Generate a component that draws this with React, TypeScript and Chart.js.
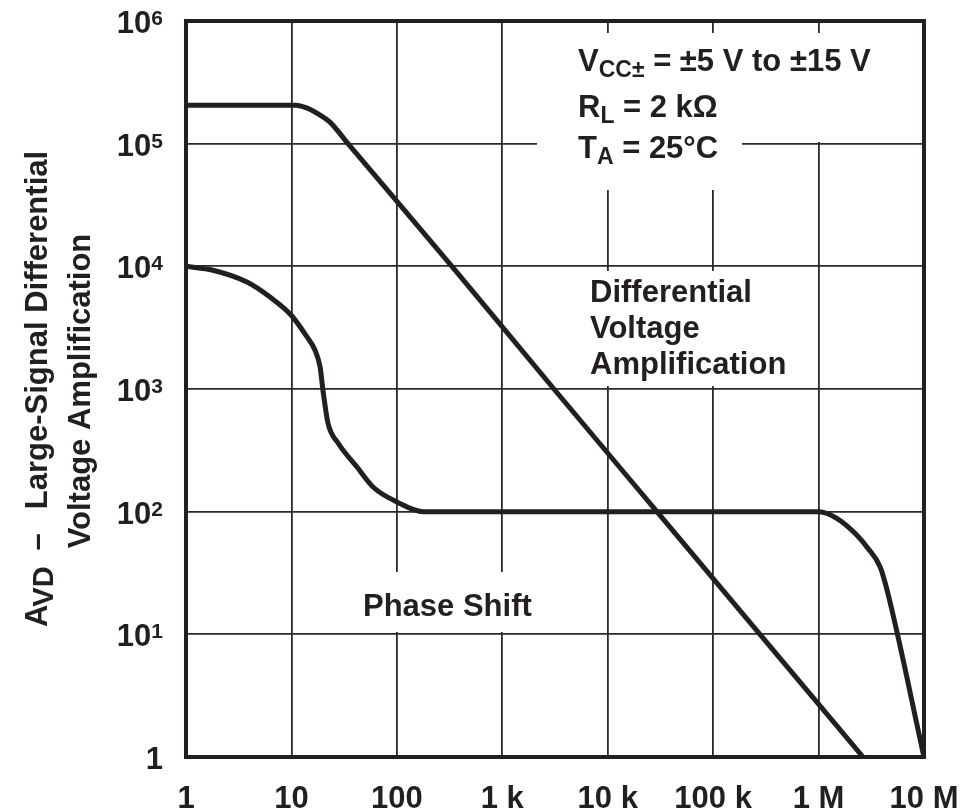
import React, { useEffect, useRef } from 'react';
import { Chart, registerables } from 'chart.js';

Chart.register(...registerables);

// ---- axis ticks ----
const xTickValues = [1, 10, 100, 1e3, 1e4, 1e5, 1e6, 1e7];
const xTickLabels = ['1', '10', '100', '1 k', '10 k', '100 k', '1 M', '10 M'];
const yTickValues = [1, 10, 100, 1e3, 1e4, 1e5, 1e6];
const yTickBases = ['1', '10', '10', '10', '10', '10', '10'];
const yTickExponents = ['', '1', '2', '3', '4', '5', '6'];

// ---- differential voltage amplification curve ----
const gainFreq = [1, 10.9, 14.1, 18.7, 23.2, 34.4, 333, 3.09e3, 2.93e4, 2.78e5, 2.64e6];
const gainValues = [2.06e5, 2.06e5, 1.95e5, 1.71e5, 1.5e5, 1e5, 1e4, 1e3, 100, 10, 1];

// ---- phase shift curve ----
const phaseFreq = [
  1, 1.8, 3.79, 6.26, 9.91, 14.0, 16.7, 18.7, 19.9, 22.2, 27.7, 41.9, 59.4, 100, 177,
  1.01e6, 1.49e6, 2.3e6, 2.86e6, 3.83e6, 4.46e6, 1e7,
];
const phaseValues = [
  1e4, 9.3e3, 7.45e3, 5.62e3, 4.01e3, 2.67e3, 2.08e3, 1.51e3, 980, 528, 363, 231, 159, 120, 100,
  100, 88.3, 64.6, 51.8, 35.6, 23.0, 1,
];

// ---- texts ----
const titleLine1 = { main: 'A', sub: 'VD', rest: 'Large-Signal Differential', dash: '–' };
const titleLine2 = 'Voltage Amplification';
const conditions = [
  { main: 'V', sub: 'CC±', rest: ' = ±5 V to ±15 V' },
  { main: 'R', sub: 'L', rest: ' = 2 kΩ' },
  { main: 'T', sub: 'A', rest: ' = 25°C' },
];
const gainLabel = ['Differential', 'Voltage', 'Amplification'];
const phaseLabel = 'Phase Shift';

const INK = '#231f20';
const GRID = '#2a2a2a';
const FAM = '"Liberation Sans", Arial, Helvetica, sans-serif';
const F_MAIN = `bold 31px ${FAM}`;
const F_SUB = `bold 23px ${FAM}`;
const F_SUP = `bold 21px ${FAM}`;

type Part = { t: string; font: string; dy?: number; gap?: number };

function drawParts(ctx: CanvasRenderingContext2D, parts: Part[], x: number, y: number, align: 'left' | 'right' | 'center') {
  ctx.textAlign = 'left';
  ctx.textBaseline = 'alphabetic';
  const widths = parts.map((p) => {
    ctx.font = p.font;
    return ctx.measureText(p.t).width + (p.gap || 0);
  });
  const total = widths.reduce((a, b) => a + b, 0);
  let cx = align === 'left' ? x : align === 'right' ? x - total : x - total / 2;
  parts.forEach((p, i) => {
    ctx.font = p.font;
    ctx.fillText(p.t, cx + (p.gap || 0), y + (p.dy || 0));
    cx += widths[i];
  });
}

const decor = {
  id: 'decor',
  beforeDatasetsDraw(chart: any) {
    const { ctx, chartArea: ca } = chart;
    const L = ca.left;
    const T = ca.top;
    ctx.save();
    ctx.fillStyle = '#ffffff';
    const masks = [
      [537, 33, 742, 190],
      [537, 33, 900, 142],
      [580, 271, 800, 386],
      [355, 572, 540, 632],
    ];
    masks.forEach(([x1, y1, x2, y2]) => {
      ctx.fillRect(L + (x1 - 186), T + (y1 - 21), x2 - x1, y2 - y1);
    });
    ctx.restore();
  },
  afterDatasetsDraw(chart: any) {
    const { ctx, chartArea: ca, scales } = chart;
    const L = ca.left;
    const T = ca.top;
    ctx.save();
    // frame
    ctx.strokeStyle = INK;
    ctx.lineWidth = 4;
    ctx.strokeRect(ca.left, ca.top, ca.right - ca.left, ca.bottom - ca.top);

    ctx.fillStyle = INK;
    // x tick labels
    xTickValues.forEach((v, i) => {
      const px = scales.x.getPixelForValue(v);
      drawParts(ctx, [{ t: xTickLabels[i], font: F_MAIN }], px, ca.bottom + 51, 'center');
    });
    // y tick labels
    yTickValues.forEach((v, i) => {
      const py = scales.y.getPixelForValue(v);
      const parts: Part[] = [{ t: yTickBases[i], font: F_MAIN }];
      if (yTickExponents[i]) parts.push({ t: yTickExponents[i], font: F_SUP, dy: -8 });
      drawParts(ctx, parts, ca.left - 23, py + 12, 'right');
    });

    // y axis title (rotated)
    const cy = (ca.top + ca.bottom) / 2;
    ctx.save();
    ctx.translate(47, cy);
    ctx.rotate(-Math.PI / 2);
    drawParts(
      ctx,
      [
        { t: titleLine1.main, font: F_MAIN },
        { t: titleLine1.sub, font: `bold 29px ${FAM}`, dy: 6, gap: -2 },
        { t: titleLine1.dash, font: F_MAIN, gap: 16 },
        { t: titleLine1.rest, font: F_MAIN, gap: 24 },
      ],
      0,
      0,
      'center'
    );
    ctx.restore();
    ctx.save();
    ctx.translate(90, cy + 2);
    ctx.rotate(-Math.PI / 2);
    drawParts(ctx, [{ t: titleLine2, font: F_MAIN }], 0, 0, 'center');
    ctx.restore();

    // conditions block
    const condBase = [71, 117, 158];
    conditions.forEach((c, i) => {
      drawParts(
        ctx,
        [
          { t: c.main, font: F_MAIN },
          { t: c.sub, font: F_SUB, dy: 6 },
          { t: c.rest, font: F_MAIN },
        ],
        L + (578 - 186),
        T + (condBase[i] - 21),
        'left'
      );
    });

    // curve labels
    const gainBase = [302, 338, 374];
    gainLabel.forEach((s, i) => {
      drawParts(ctx, [{ t: s, font: F_MAIN }], L + (590 - 186), T + (gainBase[i] - 21), 'left');
    });
    drawParts(ctx, [{ t: phaseLabel, font: F_MAIN }], L + (363 - 186), T + (616 - 21), 'left');
    ctx.restore();
  },
};

export default function App() {
  const ref = useRef<HTMLCanvasElement>(null);
  useEffect(() => {
    const canvas = ref.current;
    if (!canvas) return;
    const chart = new Chart(canvas, {
      type: 'line',
      data: {
        datasets: [
          {
            label: 'Differential Voltage Amplification',
            data: gainFreq.map((f, i) => ({ x: f, y: gainValues[i] })),
          },
          {
            label: 'Phase Shift',
            data: phaseFreq.map((f, i) => ({ x: f, y: phaseValues[i] })),
          },
        ],
      },
      options: {
        responsive: false,
        animation: false,
        devicePixelRatio: 1,
        events: [],
        layout: { padding: { left: 186, right: 39, top: 21, bottom: 53 } },
        plugins: {
          legend: { display: false },
          tooltip: { enabled: false },
          title: { display: false },
        },
        elements: {
          point: { radius: 0 },
          line: {
            cubicInterpolationMode: 'monotone',
            borderWidth: 5,
            borderColor: INK,
            borderJoinStyle: 'round',
            borderCapStyle: 'round',
            fill: false,
          },
        },
        scales: {
          x: {
            type: 'logarithmic',
            min: 1,
            max: 1e7,
            afterBuildTicks: (axis: any) => {
              axis.ticks = xTickValues.map((v) => ({ value: v }));
            },
            ticks: { display: false },
            grid: { color: GRID, lineWidth: 1.8, drawTicks: false },
            border: { display: false },
          },
          y: {
            type: 'logarithmic',
            min: 1,
            max: 1e6,
            afterBuildTicks: (axis: any) => {
              axis.ticks = yTickValues.map((v) => ({ value: v }));
            },
            ticks: { display: false },
            grid: { color: GRID, lineWidth: 1.8, drawTicks: false },
            border: { display: false },
          },
        },
      } as any,
      plugins: [decor],
    });
    return () => chart.destroy();
  }, []);
  return (
    <div style={{ position: 'absolute', left: 0, top: 0, width: 963, height: 810, background: '#ffffff' }}>
      <canvas ref={ref} width={963} height={810} style={{ display: 'block' }} />
    </div>
  );
}
